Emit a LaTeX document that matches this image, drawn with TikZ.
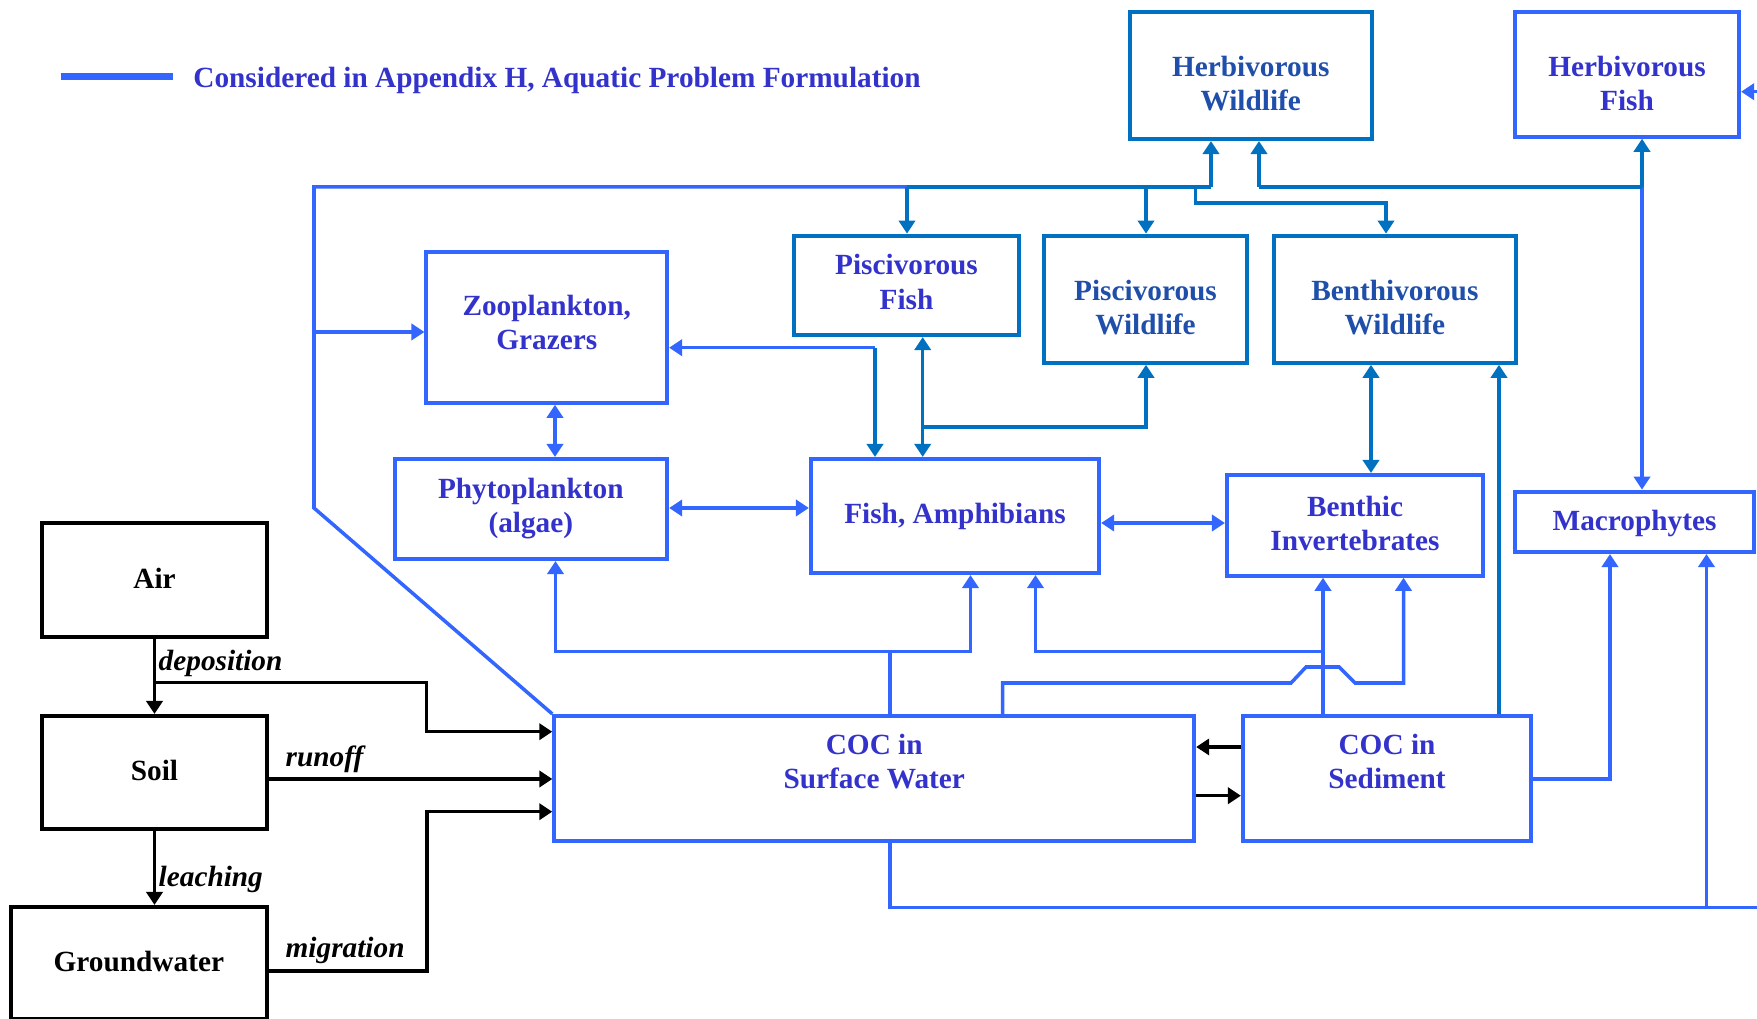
\documentclass[tikz,border=0pt]{standalone}
\usepackage{fontspec}
\setmainfont{Liberation Serif}
\usetikzlibrary{arrows.meta}
\definecolor{bblue}{HTML}{3366FF}
\definecolor{dblue}{HTML}{0070C0}
\definecolor{tviolet}{HTML}{3333CC}
\definecolor{tdark}{HTML}{1F4FAA}
\begin{document}
\begin{tikzpicture}[x=0.01cm,y=-0.01cm,
  box/.style={draw, rectangle, inner sep=0pt, line width=1.15pt},
  bbox/.style={box, draw=bblue},
  dbox/.style={box, draw=dblue},
  kbox/.style={box, draw=black},
  txt/.style={inner sep=0pt, align=center, font=\fontsize{8.33}{9.68}\selectfont\bfseries},
  vtxt/.style={txt, text=tviolet},
  dtxt/.style={txt, text=tdark},
  ktxt/.style={txt, text=black},
  bl/.style={draw=bblue, line width=1pt},
  dl/.style={draw=dblue, line width=1pt},
  kl/.style={draw=black, line width=1pt},
  arr/.style={-{Triangle[length=3.7pt,width=4.6pt]}},
  darr/.style={{Triangle[length=3.7pt,width=4.6pt]}-{Triangle[length=3.7pt,width=4.6pt]}},
  lab/.style={font=\fontsize{8.33}{9.68}\selectfont\bfseries\itshape, inner sep=0pt, anchor=base west},
]
\useasboundingbox (0,0) rectangle (1757,1019);
\clip (0,0) rectangle (1757,1019);

% legend
\node[anchor=base west, inner sep=0pt, text=tviolet, font=\fontsize{8.33}{9.68}\selectfont\bfseries] (legend) at (192.7,87.3) {Considered in Appendix H, Aquatic Problem Formulation};
\coordinate (lg1) at (60.6,76.3);
\coordinate (lg2) at (172.7,76.3);
\draw[draw=bblue, line width=2.1pt] (lg1) -- (lg2);

% boxes
\node[dbox, minimum width=2.415cm, minimum height=1.267cm] (hw) at (1250.75,75.65) {};
\node[dtxt] (hwt) at (1250.75,83.65) {Herbivorous\\Wildlife};
\node[bbox, minimum width=2.24cm, minimum height=1.244cm] (hf) at (1627,74.5) {};
\node[vtxt] (hft) at (1627,83.5) {Herbivorous\\Fish};
\node[dbox, minimum width=2.25cm, minimum height=0.993cm] (pf) at (906.5,285.35) {};
\node[vtxt] (pft) at (906.5,282) {Piscivorous\\Fish};
\node[dbox, minimum width=2.03cm, minimum height=1.27cm] (pw) at (1145.5,299.2) {};
\node[dtxt] (pwt) at (1145.5,307.2) {Piscivorous\\Wildlife};
\node[dbox, minimum width=2.417cm, minimum height=1.27cm] (bw) at (1394.85,299.2) {};
\node[dtxt] (bwt) at (1394.85,307.2) {Benthivorous\\Wildlife};
\node[bbox, minimum width=2.405cm, minimum height=1.51cm] (zoo) at (546.75,327.2) {};
\node[vtxt] (zoot) at (546.75,322.2) {Zooplankton,\\Grazers};
\node[bbox, minimum width=2.723cm, minimum height=1.0cm] (phy) at (530.85,509) {};
\node[vtxt] (phyt) at (530.85,509) {Phytoplankton\\(algae)};
\node[bbox, minimum width=2.88cm, minimum height=1.14cm] (fish) at (955,516) {};
\node[vtxt] (fisht) at (955,516) {Fish, Amphibians};
\node[bbox, minimum width=2.56cm, minimum height=1.007cm] (bi) at (1355,525.35) {};
\node[vtxt] (bit) at (1355,523.35) {Benthic\\Invertebrates};
\node[bbox, minimum width=2.39cm, minimum height=0.603cm] (mac) at (1634.5,521.85) {};
\node[vtxt] (mact) at (1634.5,523.85) {Macrophytes};
\node[kbox, minimum width=2.25cm, minimum height=1.137cm] (air) at (154.5,579.85) {};
\node[ktxt] (airt) at (154.5,577.85) {Air};
\node[kbox, minimum width=2.25cm, minimum height=1.13cm] (soil) at (154.5,772.5) {};
\node[ktxt] (soilt) at (154.5,770.5) {Soil};
\node[kbox, minimum width=2.563cm, minimum height=1.12cm] (gw) at (138.85,963) {};
\node[ktxt] (gwt) at (138.85,961.5) {Groundwater};
\node[bbox, minimum width=6.395cm, minimum height=1.25cm] (sw) at (874.25,778.5) {};
\node[vtxt] (swt) at (874.25,761.5) {COC in\\Surface Water};
\node[bbox, minimum width=2.88cm, minimum height=1.25cm] (sed) at (1387,778.5) {};
\node[vtxt] (sedt) at (1387,761.5) {COC in\\Sediment};

% black connectors
\draw[kl, arr] (air.south) -- (soil.north);
\coordinate (dep) at (154.5,682.7);
\draw[kl, arr] (dep) -- (426.7,682.7) -- (426.7,731.7) -- (sw.west |- 0,731.7);
\draw[kl, arr] (soil.east |- 0,779) -- (sw.west |- 0,779);
\draw[kl, arr] (gw.east |- 0,971) -- (427,971) -- (427,811.7) -- (sw.west |- 0,811.7);
\draw[kl, arr] (soil.south) -- (soil.south |- gw.north);
\draw[kl, arr] (sed.west |- 0,747) -- (sw.east |- 0,747);
\draw[kl, arr] (sw.east |- 0,795.7) -- (sed.west |- 0,795.7);
\node[lab] (ldep) at (158,671) {deposition};
\node[lab] (lrun) at (285,766.7) {runoff};
\node[lab] (lleach) at (158,886.7) {leaching};
\node[lab] (lmig) at (285,958) {migration};

% left / top network
\draw[bl] (sw.north west) -- (314,508) -- (314,187) -- (907,187);
\draw[bl, arr] (314,332) -- (zoo.west |- 0,332);
\draw[dl] (907,187) -- (1211,187);
\draw[dl, arr] (1211,187) -- (1211,0 |- hw.south);
\draw[dl, arr] (907,187) -- (907,0 |- pf.north);
\draw[dl, arr] (1146,187) -- (1146,0 |- pw.north);
\draw[dl, arr] (1195.5,187) -- (1195.5,203) -- (1386,203) -- (1386,0 |- bw.north);

% right top network
\draw[bl, arr] (1642,187) -- (1642,0 |- mac.north);
\draw[dl] (1259,187) -- (1642,187);
\draw[dl, arr] (1642,187) -- (1642,0 |- hf.south);
\draw[dl, arr] (1259,187) -- (1259,0 |- hw.south);
\draw[bl, arr] (1800,91.7) -- (hf.east |- 0,91.7);

% middle
\draw[bl, arr] (875,347.7) -- (zoo.east |- 0,347.7);
\draw[dl, arr] (875,347.7) -- (875,0 |- fish.north);
\draw[dl, darr] (922.7,0 |- pf.south) -- (922.7,0 |- fish.north);
\draw[dl, arr] (922.7,427) -- (1146,427) -- (1146,0 |- pw.south);
\draw[bl, darr] (555,0 |- zoo.south) -- (555,0 |- phy.north);
\draw[bl, darr] (phy.east |- 0,508) -- (fish.west |- 0,508);
\draw[bl, darr] (fish.east |- 0,523) -- (bi.west |- 0,523);
\draw[dl, darr] (1371,0 |- bw.south) -- (1371,0 |- bi.north);

% bottom network
\draw[bl] (890,0 |- sw.north) -- (890,651.7);
\draw[bl, arr] (890,651.7) -- (555.5,651.7) -- (555.5,0 |- phy.south);
\draw[bl, arr] (890,651.7) -- (970.5,651.7) -- (970.5,0 |- fish.south);
\draw[bl, arr] (1323,0 |- sed.north) -- (1323,0 |- bi.south);
\draw[bl, arr] (1323,651.7) -- (1035.5,651.7) -- (1035.5,0 |- fish.south);
\draw[bl, arr] (1002.6,0 |- sw.north) -- (1002.6,683) -- (1291,683) -- (1306,667) -- (1339,667) -- (1355,683) -- (1403.5,683) -- (1403.5,0 |- bi.south);
\draw[dl, arr] (1499,0 |- sed.north) -- (1499,0 |- bw.south);
\draw[bl, arr] (sed.east |- 0,779) -- (1610,779) -- (1610,0 |- mac.south);
\draw[bl] (890,0 |- sw.south) -- (890,907.7) -- (1800,907.7);
\draw[bl, arr] (1706.5,907.7) -- (1706.5,0 |- mac.south);
\end{tikzpicture}
\end{document}
